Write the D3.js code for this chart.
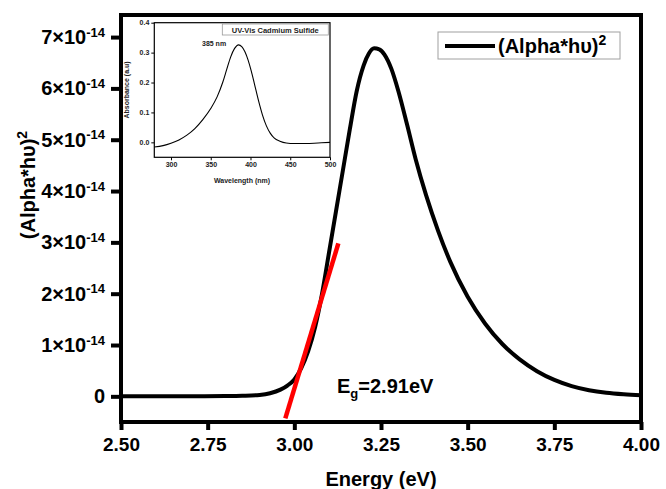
<!DOCTYPE html>
<html>
<head>
<meta charset="utf-8">
<script src="https://cdn.jsdelivr.net/npm/d3@7"></script>
<style>
  html, body { margin: 0; padding: 0; background: #fff; }
  svg { display: block; font-family: "Liberation Sans", Arial, sans-serif; font-weight: bold; }
</style>
</head>
<body>
<svg id="chart" width="666" height="489"></svg>
<script>
// main curve: energy (eV) vs (alpha*hv)^2 in units of 1e-14
const energy   = [2.50, 2.70, 2.80, 2.85, 2.90, 2.93, 2.96, 2.98, 3.00, 3.02, 3.04, 3.06, 3.08, 3.10, 3.12, 3.14, 3.16, 3.18, 3.20, 3.215, 3.23, 3.245, 3.26, 3.28, 3.30, 3.325, 3.35, 3.38, 3.415, 3.45, 3.50, 3.55, 3.60, 3.65, 3.70, 3.75, 3.80, 3.85, 3.90, 3.95, 4.00];
const alphaHv2 = [0.00, 0.002, 0.006, 0.012, 0.028, 0.06, 0.13, 0.21, 0.33, 0.55, 0.88, 1.35, 2.00, 2.80, 3.60, 4.40, 5.20, 5.95, 6.45, 6.68, 6.78, 6.76, 6.66, 6.38, 5.95, 5.30, 4.62, 3.92, 3.22, 2.62, 1.94, 1.42, 1.02, 0.72, 0.49, 0.32, 0.20, 0.12, 0.07, 0.04, 0.02];

// tangent (band gap extrapolation)
const tangentE = [2.974, 3.127];
const tangentV = [-0.43, 2.98];

// inset: UV-Vis absorbance
const wavelength = [279, 290, 300, 310, 320, 330, 340, 350, 358, 365, 370, 375, 380, 385, 389, 393, 397, 401, 405, 410, 415, 420, 425, 430, 437, 445, 455, 470, 485, 500];
const absorbance = [-0.0156, -0.011, -0.003, 0.008, 0.024, 0.046, 0.076, 0.113, 0.152, 0.200, 0.243, 0.285, 0.314, 0.326, 0.320, 0.303, 0.275, 0.238, 0.195, 0.140, 0.092, 0.055, 0.030, 0.014, 0.004, -0.002, -0.004, -0.004, -0.002, 0.000];

const energyTicks = [2.50, 2.75, 3.00, 3.25, 3.50, 3.75, 4.00];
const yTicks = [0, 1, 2, 3, 4, 5, 6, 7];
const insetXTicks = [300, 350, 400, 450, 500];
const insetYTicks = [0.0, 0.1, 0.2, 0.3, 0.4];

const svg = d3.select("#chart");

// main scales
const x = d3.scaleLinear().domain([2.5, 4.0]).range([121, 641]);
const y = d3.scaleLinear().domain([-0.5, 7.43]).range([422, 15]);

// axes (ticks only, frame drawn separately)
const xAxis = svg.append("g")
    .attr("transform", `translate(0,${y.range()[0]})`)
    .call(d3.axisBottom(x).tickValues(energyTicks).tickSize(8).tickPadding(8).tickFormat(d3.format(".2f")));
xAxis.select(".domain").remove();
xAxis.selectAll(".tick line").attr("stroke", "#000").attr("stroke-width", 4);
xAxis.selectAll(".tick text").attr("font-size", 19).attr("font-weight", "bold").attr("fill", "#000")
    .attr("font-family", "Liberation Sans, Arial, sans-serif");

const yAxis = svg.append("g")
    .attr("transform", `translate(${x.range()[0]},0)`)
    .call(d3.axisLeft(y).tickValues(yTicks).tickSize(10).tickPadding(6));
yAxis.select(".domain").remove();
yAxis.selectAll(".tick line").attr("stroke", "#000").attr("stroke-width", 4);
yAxis.selectAll(".tick text")
    .attr("font-size", 20).attr("font-weight", "bold").attr("fill", "#000")
    .attr("font-family", "Liberation Sans, Arial, sans-serif")
    .each(function (d) {
        const t = d3.select(this).text("");
        if (d === 0) { t.text("0"); return; }
        t.append("tspan").text(d + "\u00d710");
        t.append("tspan").attr("font-size", 13).attr("dy", "-0.55em").text("-14");
    });

// frame
svg.append("rect")
    .attr("x", x.range()[0]).attr("y", y.range()[1])
    .attr("width", x.range()[1] - x.range()[0])
    .attr("height", y.range()[0] - y.range()[1])
    .attr("fill", "none").attr("stroke", "#000").attr("stroke-width", 4);

// curve
const line = d3.line().x((d, i) => x(energy[i])).y(d => y(d)).curve(d3.curveMonotoneX);
svg.append("path")
    .datum(alphaHv2)
    .attr("d", line)
    .attr("fill", "none").attr("stroke", "#000").attr("stroke-width", 4)
    .attr("stroke-linejoin", "round");

// tangent line
svg.append("line")
    .attr("x1", x(tangentE[0])).attr("y1", y(tangentV[0]))
    .attr("x2", x(tangentE[1])).attr("y2", y(tangentV[1]))
    .attr("stroke", "#ff0000").attr("stroke-width", 4.5);

// band gap label
const eg = svg.append("text").attr("x", 337).attr("y", 393).attr("font-size", 20).attr("fill", "#000");
eg.append("tspan").text("E");
eg.append("tspan").attr("font-size", 13).attr("dy", 5).text("g");
eg.append("tspan").attr("dy", -5).text("=2.91eV");

// axis titles
svg.append("text")
    .attr("x", x(3.25)).attr("y", 486)
    .attr("text-anchor", "middle").attr("font-size", 20).attr("fill", "#000")
    .text("Energy (eV)");

const yt = svg.append("text")
    .attr("transform", "translate(35,185) rotate(-90)")
    .attr("text-anchor", "middle").attr("font-size", 20).attr("fill", "#000");
yt.append("tspan").text("(Alpha*h\u03c5)");
yt.append("tspan").attr("font-size", 14).attr("dy", "-0.6em").text("2");

// legend
const lg = svg.append("g");
lg.append("rect").attr("x", 438).attr("y", 32).attr("width", 182).attr("height", 27)
    .attr("fill", "#fff").attr("stroke", "#a0a0a0").attr("stroke-width", 1);
lg.append("line").attr("x1", 445).attr("x2", 495).attr("y1", 46).attr("y2", 46)
    .attr("stroke", "#000").attr("stroke-width", 4);
const lt = lg.append("text").attr("x", 498).attr("y", 53).attr("font-size", 20).attr("fill", "#000");
lt.append("tspan").text("(Alpha*h\u03c5)");
lt.append("tspan").attr("font-size", 14).attr("dy", "-0.6em").text("2");

// ---------- inset ----------
const ix = d3.scaleLinear().domain([279, 500]).range([154.3, 330]);
const iy = d3.scaleLinear().domain([-0.05, 0.4]).range([157.3, 22.7]);
const inset = svg.append("g");
const small = 7;

const ixAxis = inset.append("g")
    .attr("transform", `translate(0,${iy.range()[0]})`)
    .call(d3.axisBottom(ix).tickValues(insetXTicks).tickSize(3).tickPadding(2).tickFormat(d3.format("d")));
const iyAxis = inset.append("g")
    .attr("transform", `translate(${ix.range()[0]},0)`)
    .call(d3.axisLeft(iy).tickValues(insetYTicks).tickSize(3).tickPadding(2).tickFormat(d3.format(".1f")));
[ixAxis, iyAxis].forEach(a => {
    a.select(".domain").remove();
    a.selectAll(".tick line").attr("stroke", "#000").attr("stroke-width", 1);
    a.selectAll(".tick text").attr("font-size", small).attr("font-weight", "bold").attr("fill", "#222")
        .attr("font-family", "Liberation Sans, Arial, sans-serif");
});

inset.append("rect")
    .attr("x", ix.range()[0]).attr("y", iy.range()[1])
    .attr("width", ix.range()[1] - ix.range()[0])
    .attr("height", iy.range()[0] - iy.range()[1])
    .attr("fill", "none").attr("stroke", "#000").attr("stroke-width", 1.2);

const iline = d3.line().x((d, i) => ix(wavelength[i])).y(d => iy(d)).curve(d3.curveMonotoneX);
inset.append("path")
    .datum(absorbance)
    .attr("d", iline)
    .attr("fill", "none").attr("stroke", "#000").attr("stroke-width", 1.1);

inset.append("text").attr("x", 202).attr("y", 46).attr("font-size", small).attr("fill", "#222").text("385 nm");

inset.append("rect").attr("x", 222.3).attr("y", 24).attr("width", 106).attr("height", 11)
    .attr("fill", "#fff").attr("stroke", "#999").attr("stroke-width", 0.8);
inset.append("text").attr("x", 275.3).attr("y", 32.6).attr("text-anchor", "middle")
    .attr("font-size", 7.5).attr("fill", "#222").text("UV-Vis Cadmium Sulfide");

inset.append("text").attr("x", 242).attr("y", 183).attr("text-anchor", "middle")
    .attr("font-size", small).attr("fill", "#222").text("Wavelength (nm)");
inset.append("text").attr("transform", "translate(129,90) rotate(-90)").attr("text-anchor", "middle")
    .attr("font-size", small).attr("fill", "#222").text("Absorbance (a.u)");
</script>
</body>
</html>
